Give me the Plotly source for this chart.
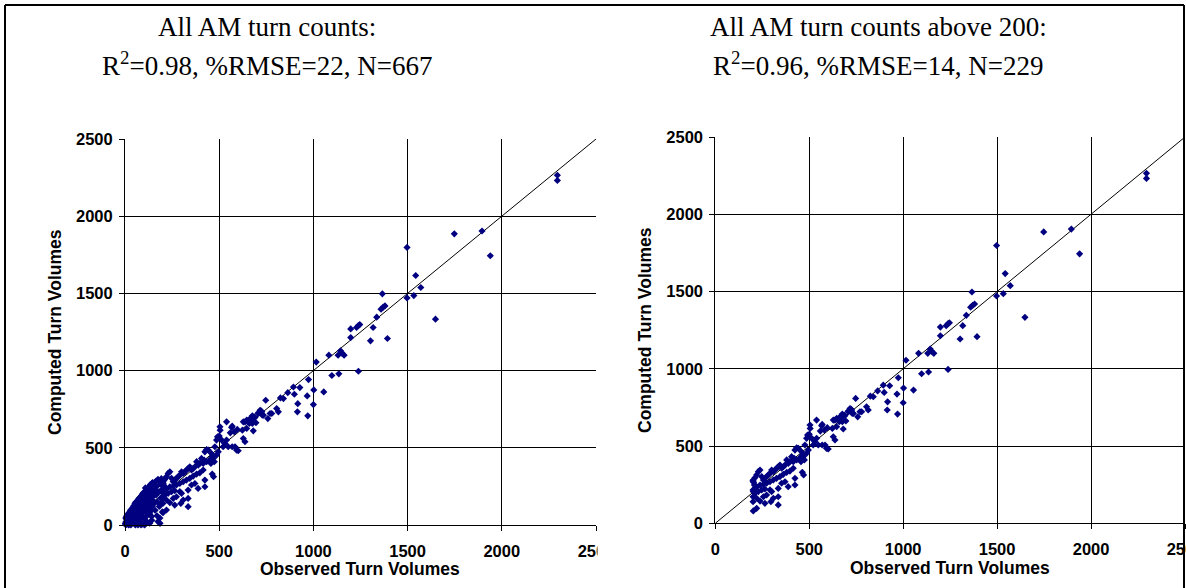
import plotly.graph_objects as go

# ---------------- data (observed vs computed AM turn volumes) ----------------
observed = [
    # high volumes
    2295, 2295, 1748, 1895, 1939, 1497, 1543, 1570, 1533, 1497, 1648, 1366, 1359, 1370, 1380,
    1336, 1317, 1229, 1239, 1246, 1198, 1198, 1303, 1393, 1082, 1131, 1144, 1152, 1163, 1015,
    974, 1098, 1135, 1239, 928, 1002, 967, 1055,
    # 650-1000
    747, 717, 708, 726, 687, 676, 664, 646, 758, 735, 805, 814, 779, 770, 825, 841, 864, 899,
    894, 917, 915, 970, 1000,
    # 200-740
    722, 708, 729, 690, 672, 676, 660, 637, 628, 695, 646, 623, 681, 628, 637, 596, 580, 559,
    539, 569, 566, 504, 505, 500, 491, 486, 513, 530, 539, 548, 584, 601, 592, 569, 521, 477,
    495, 486, 463, 459, 442, 433, 424, 451, 468, 474, 456, 433, 420, 406, 415, 397, 389, 380,
    371, 362, 353, 344, 335, 326, 318, 309, 300, 291, 282, 273, 264, 256, 247, 238, 229, 220,
    211, 202, 200, 204, 208, 220, 201, 202, 211, 229, 247, 264, 238, 256, 273, 291, 309, 326,
    344, 362, 380, 397, 415, 291, 300, 335, 353, 371, 424, 424, 463, 470, 335, 296, 264, 238,
    201, 220, 202, 335, 388, 273, 309, 256, 220, 201,
    # below 200
    3, 5, 8, 10, 12, 14, 16, 18, 20, 22, 24, 6, 9, 15, 25, 2, 19, 13, 4, 8, 11, 17, 21,
    26, 28, 30, 32, 34, 36, 38, 40, 42, 44, 46, 48, 50, 27, 33, 45, 31, 49, 29, 37, 43, 47,
    52, 54, 56, 58, 60, 62, 64, 66, 68, 70, 72, 74, 55, 65, 69, 71, 59, 67, 53, 57, 63, 73,
    76, 78, 80, 82, 84, 86, 88, 90, 92, 94, 96, 98, 85, 95, 79, 91, 83, 99, 81, 87, 93, 97,
    101, 103, 105, 107, 109, 111, 113, 115, 117, 119, 121, 123, 104, 110, 116, 124, 108, 120,
    106, 112, 118, 122,
    126, 128, 130, 132, 134, 136, 138, 140, 142, 144, 146, 148, 131, 137, 145, 149, 127, 141,
    129, 135, 143, 147,
    152, 155, 158, 160, 162, 165, 168, 170, 172, 175, 178, 180, 182, 186, 188, 190, 193, 196,
    198, 185, 165, 175, 155, 192,
]

computed = [
    # high volumes
    2265, 2232, 1886, 1904, 1744, 1798, 1616, 1538, 1486, 1471, 1333, 1497, 1398, 1411, 1419,
    1346, 1279, 1279, 1292, 1298, 1270, 1214, 1193, 1208, 1100, 1100, 1128, 1113, 1100, 1055,
    942, 968, 979, 996, 890, 875, 836, 862,
    # 650-1000
    808, 743, 722, 733, 700, 707, 689, 679, 689, 711, 754, 733, 722, 722, 823, 819, 857, 847,
    894, 786, 733, 707, 780,
    # 200-740
    739, 727, 711, 696, 675, 658, 658, 668, 668, 662, 625, 614, 610, 560, 539, 619, 604, 597,
    668, 640, 632, 636, 614, 576, 571, 550, 550, 528, 550, 507, 507, 481, 485, 507, 507, 507,
    474, 453, 442, 463, 485, 489, 474, 425, 431, 410, 399, 410, 420, 431, 399, 399, 388, 410,
    377, 366, 356, 377, 366, 356, 345, 334, 345, 323, 313, 302, 291, 280, 302, 345, 334, 313,
    295, 280, 274, 265, 248, 237, 216, 205, 194, 205, 216, 222, 248, 252, 259, 269, 280, 291,
    302, 317, 330, 338, 356, 216, 205, 226, 259, 269, 248, 291, 330, 313, 172, 140, 129, 144,
    140, 97, 80, 119, 237, 183, 162, 172, 162, 172,
    # below 200
    2, 10, 4, 18, 28, 8, 40, 15, 52, 30, 5, 22, 35, 60, 70, 12, 0, 48, 45, 55, 62, 70, 80,
    20, 45, 85, 10, 60, 97, 30, 75, 110, 50, 15, 90, 120, 62, 40, 100, 0, 35, 95, 105, 115, 125,
    60, 135, 25, 95, 145, 75, 8, 120, 155, 45, 100, 165, 0, 30, 0, 135, 110, 65, 140, 148, 150, 170,
    175, 80, 130, 20, 160, 105, 185, 55, 140, 195, 80, 165, 0, 5, 45, 115, 150, 210, 180, 190, 200, 205,
    120, 185, 35, 150, 205, 85, 170, 220, 60, 135, 230, 195, 0, 10, 100, 155, 240, 15,
    215, 225, 235, 240,
    210, 110, 240, 70, 175, 250, 130, 200, 30, 260, 160, 225, 12, 90, 120, 185, 145, 55,
    250, 262, 270, 275,
    270, 140, 230, 95, 280, 195, 250, 60, 150, 22, 290, 215, 120, 11, 265, 175, 300, 230,
    85, 45, 285, 295, 200, 140,
]

threshold = 200                      # right panel: observed counts above 200
diag_x = [0, 2500]                   # 45-degree reference line
diag_y = [0, 2500]
tick_values = [0, 500, 1000, 1500, 2000, 2500]

left_title = ["All AM turn counts:", "R<sup>2</sup>=0.98, %RMSE=22, N=667"]
right_title = ["All AM turn counts above 200:", "R<sup>2</sup>=0.96, %RMSE=14, N=229"]
x_title = "Observed Turn Volumes"
y_title = "Computed Turn Volumes"

obs_hi = [o for o, c in zip(observed, computed) if o >= threshold]
comp_hi = [c for o, c in zip(observed, computed) if o >= threshold]

# ---------------- figure ----------------
W, H = 1186, 588          # reference frame used to place things in paper fractions
NAVY = "#000080"

fig = go.Figure()

for xs, ys, xa, ya in [(observed, computed, "x", "y"), (obs_hi, comp_hi, "x2", "y2")]:
    fig.add_trace(go.Scatter(x=diag_x, y=diag_y, mode="lines",
                             line=dict(color="black", width=1),
                             xaxis=xa, yaxis=ya, hoverinfo="skip", showlegend=False))
    fig.add_trace(go.Scatter(x=xs, y=ys, mode="markers",
                             marker=dict(symbol="diamond", size=5.5, color=NAVY,
                                         line=dict(width=0)),
                             xaxis=xa, yaxis=ya, cliponaxis=False, showlegend=False))

tick_font = dict(family="Liberation Sans, Arial, sans-serif", size=16.5, color="black",
                 weight="bold")
axis_common = dict(
    range=[0, 2500], tickvals=tick_values, showgrid=True, gridcolor="black", gridwidth=1,
    showline=True, linecolor="black", linewidth=1, zeroline=False,
    ticks="outside", ticklen=5, tickcolor="black", tickwidth=1,
    tickfont=tick_font, fixedrange=True,
)
x_common = dict(axis_common, ticklabelstandoff=6)
y_common = dict(axis_common, ticklabelstandoff=3)


def px(xp):
    return xp / W


def py(yp):
    return 1 - yp / H


fig.update_layout(
    autosize=True, margin=dict(l=0, r=0, t=0, b=0, autoexpand=False),
    paper_bgcolor="white", plot_bgcolor="white", showlegend=False,
    xaxis=dict(x_common, domain=[px(125), px(596)], anchor="y"),
    yaxis=dict(y_common, domain=[py(525), py(139)], anchor="x"),
    xaxis2=dict(x_common, domain=[px(715.3), px(1185)], anchor="y2",
                ticklabeloverflow="allow"),
    yaxis2=dict(y_common, domain=[py(523.3), py(137)], anchor="x2"),
)

serif = dict(family="Liberation Serif, Times New Roman, serif", size=27, color="black")
sans_bold = dict(family="Liberation Sans, Arial, sans-serif", size=17.5, color="black",
                 weight="bold")

annotations = []
for cx, lines in [(267, left_title), (878, right_title)]:
    for yp, txt in zip([27, 64], lines):
        annotations.append(dict(x=px(cx), y=py(yp), xref="paper", yref="paper", text=txt,
                                showarrow=False, font=serif, xanchor="center",
                                yanchor="middle"))
for cx, cy in [(360, 569), (950, 568)]:
    annotations.append(dict(x=px(cx), y=py(cy), xref="paper", yref="paper", text=x_title,
                            showarrow=False, font=sans_bold, xanchor="center",
                            yanchor="middle"))
for cx, cy in [(55, 332), (645, 330)]:
    annotations.append(dict(x=px(cx), y=py(cy), xref="paper", yref="paper", text=y_title,
                            showarrow=False, font=sans_bold, textangle=-90,
                            xanchor="center", yanchor="middle"))
fig.update_layout(annotations=annotations)

# mask for the clipped last tick label of the left panel, and the frame
fig.add_shape(type="rect", xref="paper", yref="paper", x0=px(597.5), x1=px(650),
              y0=py(558), y1=py(532), fillcolor="white", line=dict(width=0), layer="above")
frame = dict(color="black", width=2)
fig.add_shape(type="line", xref="paper", yref="paper", x0=px(5), x1=px(1184),
              y0=py(5), y1=py(5), line=frame, layer="above")
fig.add_shape(type="line", xref="paper", yref="paper", x0=px(5), x1=px(5),
              y0=py(5), y1=0, line=frame, layer="above")
fig.add_shape(type="line", xref="paper", yref="paper", x0=px(1184), x1=px(1184),
              y0=py(5), y1=0, line=frame, layer="above")

page_js = (
    "document.documentElement.style.margin='0';document.body.style.margin='0';"
    "document.body.style.padding='0';document.documentElement.style.overflow='hidden';"
    "document.body.style.overflow='hidden';"
    "var gd=document.getElementById('{plot_id}');"
    "gd.style.position='fixed';gd.style.left='0px';gd.style.top='0px';"
    "gd.style.width='100vw';gd.style.height='100vh';gd.style.overflow='hidden';"
    "Plotly.Plots.resize(gd);"
)
fig.write_html("out.html", post_script=page_js, config={"displayModeBar": False},
               default_width="100vw", default_height="100vh")
